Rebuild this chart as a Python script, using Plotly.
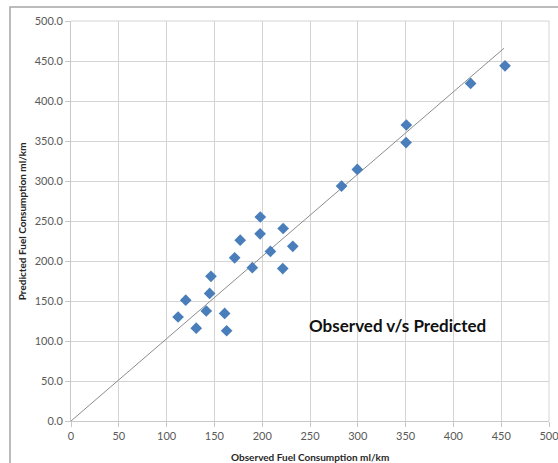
import plotly.graph_objects as go

observed = [112, 120, 131, 141.5, 145, 146.4, 160.7, 162.8, 171.2, 177, 189.7, 197.8, 198,
            208.6, 221.5, 232, 221.9, 283, 299.5, 350.8, 350.5, 418, 454]
predicted = [130, 151, 116, 137.5, 159.5, 180.8, 134.5, 112.8, 204, 226, 191.7, 234, 255,
             212, 190.5, 218.4, 240.6, 293.6, 314.5, 370, 348, 422, 444]
trend_x = [0, 453]
trend_y = [0, 466]
x_ticks = [0, 50, 100, 150, 200, 250, 300, 350, 400, 450, 500]
y_ticks = [0, 50, 100, 150, 200, 250, 300, 350, 400, 450, 500]

font = "Lato, 'Open Sans', sans-serif"

fig = go.Figure()
fig.add_trace(go.Scatter(x=trend_x, y=trend_y, mode="lines",
                         line=dict(color="#8c8c8c", width=1), showlegend=False, hoverinfo="skip"))
fig.add_trace(go.Scatter(x=observed, y=predicted, mode="markers",
                         marker=dict(symbol="diamond", size=9, color="#4a7ebb"), showlegend=False))

fig.add_annotation(x=342, y=120, text="<b>Observed v/s Predicted</b>", showarrow=False,
                   font=dict(family=font, size=17, color="#111111"))

# axis titles as paper annotations (keeps plot area fixed)
fig.add_annotation(xref="paper", yref="paper", x=0.5, y=-0.09, yanchor="middle",
                   text="<b>Observed Fuel Consumption ml/km</b>", showarrow=False,
                   font=dict(family=font, size=10, color="#262626"))
fig.add_annotation(xref="paper", yref="paper", x=-0.102, y=0.5, xanchor="center",
                   text="<b>Predicted Fuel Consumption ml/km</b>", showarrow=False, textangle=-90,
                   font=dict(family=font, size=10, color="#262626"))

fig.add_shape(type="rect", xref="paper", yref="paper", x0=-0.1276, y0=-0.3, x1=1.2, y1=1.035,
              line=dict(color="#a6a6a6", width=1.5), layer="below")

fig.update_xaxes(range=[0, 500], tickvals=x_ticks, ticktext=[str(v) for v in x_ticks],
                 showgrid=True, gridcolor="#d4d4d4", gridwidth=1, automargin=False,
                 showline=True, linecolor="#c8c8c8", linewidth=1, mirror=False,
                 ticks="outside", ticklen=5, tickcolor="#c8c8c8", ticklabeloverflow="allow",
                 tickfont=dict(family=font, size=11, color="#595959"), zeroline=False)
fig.update_yaxes(range=[0, 500], tickvals=y_ticks, ticktext=[f"{v:.1f}" for v in y_ticks],
                 showgrid=True, gridcolor="#d4d4d4", gridwidth=1, automargin=False,
                 showline=True, linecolor="#c8c8c8", linewidth=1,
                 ticks="outside", ticklen=5, tickcolor="#c8c8c8",
                 tickfont=dict(family=font, size=11, color="#595959"), zeroline=False)

fig.add_shape(type="line", xref="paper", yref="paper", x0=1, x1=1, y0=0, y1=1,
              line=dict(color="#d4d4d4", width=1))
fig.add_shape(type="line", xref="paper", yref="paper", x0=0, x1=1, y0=1, y1=1,
              line=dict(color="#d4d4d4", width=1))

fig.update_layout(width=558, height=463, margin=dict(l=71, r=9, t=21, b=42, autoexpand=False),
                  plot_bgcolor="white", paper_bgcolor="white")

fig.write_html("out.html")
